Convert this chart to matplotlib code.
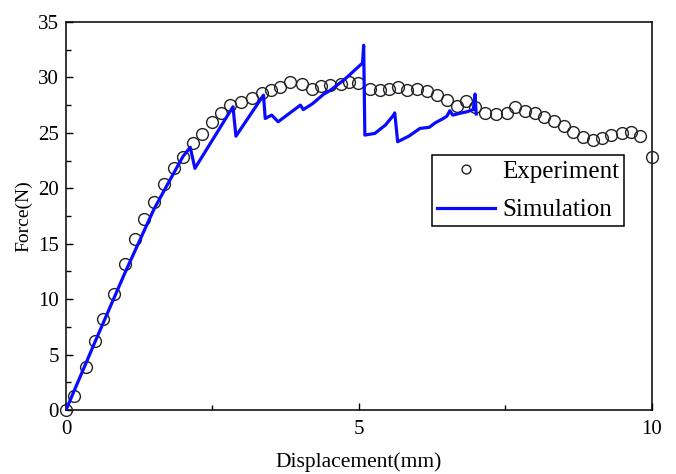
import matplotlib.pyplot as plt
from matplotlib.ticker import MultipleLocator

plt.rcParams['font.family'] = ['Liberation Serif', 'DejaVu Serif']

# experiment (circles)
exp_x = [0, 0.14, 0.34, 0.49, 0.64, 0.82, 1.01, 1.18, 1.33, 1.5,
         1.67, 1.84, 2.0, 2.17, 2.32, 2.5, 2.64, 2.8, 2.98, 3.17,
         3.34, 3.49, 3.66, 3.82, 4.02, 4.19, 4.35, 4.5, 4.69, 4.83,
         4.99, 5.18, 5.35, 5.52, 5.67, 5.82, 5.99, 6.16, 6.33, 6.5,
         6.67, 6.83, 6.98, 7.15, 7.34, 7.52, 7.66, 7.83, 8.0, 8.16,
         8.33, 8.5, 8.66, 8.82, 8.99, 9.14, 9.3, 9.48, 9.64, 9.8, 10.0]
exp_y = [0, 1.3, 3.9, 6.2, 8.2, 10.5, 13.2, 15.4, 17.2, 18.8,
         20.4, 21.8, 22.85, 24.1, 24.9, 26.0, 26.75, 27.5, 27.8, 28.1,
         28.6, 28.9, 29.15, 29.6, 29.4, 29.0, 29.2, 29.3, 29.45, 29.6,
         29.5, 29.0, 28.9, 29.0, 29.15, 28.9, 29.0, 28.75, 28.45, 27.95,
         27.45, 27.9, 27.3, 26.8, 26.7, 26.8, 27.35, 26.95, 26.75, 26.4,
         26.1, 25.6, 25.1, 24.6, 24.4, 24.5, 24.8, 25.0, 25.1, 24.7, 22.8]

# simulation (line)
sim_x = [0, 0.5, 1.0, 1.5, 1.8, 2.0, 2.12, 2.2, 2.85, 2.9,
         3.37, 3.4, 3.51, 3.62, 4.0, 4.05, 4.2, 4.4, 4.5, 4.75,
         5.06, 5.08, 5.10, 5.27, 5.45, 5.59, 5.61, 5.66, 5.85, 6.04,
         6.2, 6.3, 6.44, 6.5, 6.55, 6.6, 6.75, 6.84, 6.95, 6.98, 7.0]
sim_y = [0, 6.2, 12.3, 18.1, 21.0, 22.9, 23.7, 21.8, 27.35, 24.7,
         28.4, 26.3, 26.6, 26.0, 27.5, 27.1, 27.6, 28.5, 28.8, 29.8,
         31.3, 32.9, 24.8, 24.95, 25.7, 26.6, 26.8, 24.2, 24.7, 25.4,
         25.5, 25.9, 26.3, 26.5, 27.0, 26.6, 26.8, 26.9, 27.1, 28.5, 26.7]

fig = plt.figure(figsize=(6.76, 4.74), dpi=100)
ax = fig.add_axes([0.0976, 0.135, 0.8669, 0.8186])

ax.plot(exp_x, exp_y, 'o', mfc='none', mec='#222222', mew=1.0, ms=8.5,
        label='Experiment', clip_on=False, zorder=3)
ax.plot(sim_x, sim_y, '-', color='#0a0aff', lw=2.3, label='Simulation', zorder=4)

ax.set_xlim(0, 10)
ax.set_ylim(0, 35)
ax.xaxis.set_major_locator(MultipleLocator(5))
ax.xaxis.set_minor_locator(MultipleLocator(2.5))
ax.yaxis.set_major_locator(MultipleLocator(5))
ax.yaxis.set_minor_locator(MultipleLocator(2.5))
ax.tick_params(which='both', direction='in', top=False, right=False, width=1.0)
ax.tick_params(which='major', length=5, labelsize=15)
ax.tick_params(axis='x', which='major', pad=7)
ax.tick_params(axis='y', which='major', pad=5)
ax.tick_params(which='minor', length=3.5)
for s in ax.spines.values():
    s.set_linewidth(1.1)

ax.set_xlabel('Displacement(mm)', fontsize=15.5, labelpad=10)
ax.set_ylabel('Force(N)', fontsize=14, labelpad=4)

leg = ax.legend(loc='upper left', bbox_to_anchor=(0.6246, 0.657), borderaxespad=0,
                fontsize=18, handlelength=2.3, handletextpad=0.3, borderpad=0.2,
                labelspacing=0.65, markerscale=0.75, fancybox=False, framealpha=1,
                edgecolor='black')
leg.get_frame().set_linewidth(1.1)

fig.savefig('out.png', dpi=100)
